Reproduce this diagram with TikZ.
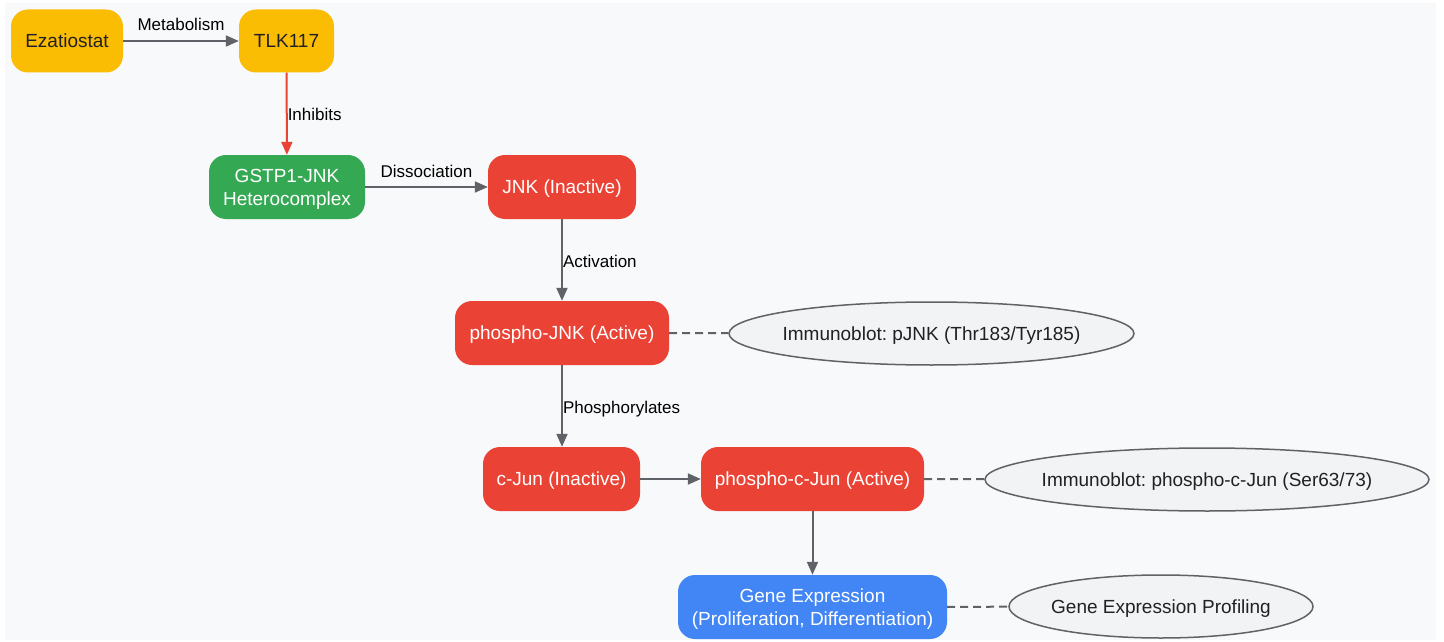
\documentclass[tikz,border=0pt]{standalone}
\usepackage{fontspec}
\setmainfont{Liberation Sans}
\frenchspacing
\usetikzlibrary{arrows.meta,shapes.geometric}
\definecolor{bgc}{HTML}{F8F9FA}
\definecolor{yel}{HTML}{FBBC04}
\definecolor{grn}{HTML}{34A853}
\definecolor{redc}{HTML}{EA4335}
\definecolor{blu}{HTML}{4285F4}
\definecolor{ell}{HTML}{F1F3F4}
\definecolor{edge}{HTML}{5F6368}
\definecolor{txt}{HTML}{202124}
\tikzset{
  box/.style={rectangle, rounded corners=17pt, inner sep=0pt, align=center,
    text depth=0pt, font=\fontsize{19}{23}\selectfont},
  ybox/.style={box, fill=yel, text=txt},
  gbox/.style={box, fill=grn, text=white},
  rbox/.style={box, fill=redc, text=white},
  bbox/.style={box, fill=blu, text=white},
  assay/.style={ellipse, draw=edge, line width=1.5pt, fill=ell, text=txt, inner sep=0pt,
    text depth=0pt, font=\fontsize{19}{23}\selectfont},
  arr/.style={draw=edge, line width=2pt, -{Triangle[length=13pt,width=11pt]}},
  rarr/.style={draw=redc, line width=2pt, -{Triangle[length=13pt,width=11pt]}},
  dsh/.style={draw=edge, line width=2pt, dash pattern=on 8pt off 5pt},
  lbl/.style={font=\fontsize{17}{20}\selectfont, text=black, inner sep=0pt}
}
\begin{document}
\begin{tikzpicture}[x=1pt,y=-1pt]
\useasboundingbox (0,0) rectangle (1444,642);
\fill[white] (0,0) rectangle (1444,642);
\fill[bgc] (5,3) rectangle (1436,640);

\node[ybox, minimum width=112pt, minimum height=63pt] (ez) at (67,41) {Ezatiostat};
\node[ybox, minimum width=95pt, minimum height=63pt] (tlk) at (286.5,41) {TLK117};
\node[gbox, minimum width=156pt, minimum height=64pt] (gst) at (287,187) {GSTP1-JNK\\Heterocomplex};
\node[rbox, minimum width=148pt, minimum height=64pt] (jnk) at (562,187) {JNK (Inactive)};
\node[rbox, minimum width=214pt, minimum height=64pt] (pjnk) at (562,333) {phospho-JNK (Active)};
\node[assay, minimum width=405pt, minimum height=63pt] (e1) at (931.5,333.5) {\makebox[0pt]{Immunoblot: pJNK (Thr183/Tyr185)}};
\node[rbox, minimum width=157pt, minimum height=64pt] (cjun) at (561.5,479) {c-Jun (Inactive)};
\node[rbox, minimum width=223pt, minimum height=64pt] (pcjun) at (812.5,479) {phospho-c-Jun (Active)};
\node[assay, minimum width=444pt, minimum height=63pt] (e2) at (1207,479.5) {\makebox[0pt]{Immunoblot: phospho-c-Jun (Ser63/73)}};
\node[bbox, minimum width=269pt, minimum height=64pt] (gene) at (812.5,607) {Gene Expression\\(Proliferation, Differentiation)};
\node[assay, minimum width=304pt, minimum height=63pt] (e3) at (1161,606.5) {\makebox[0pt]{Gene Expression Profiling}};

\draw[arr] (ez) -- (tlk) node[lbl, midway, above=9pt] {Metabolism};
\draw[rarr] (tlk) -- (gst) node[lbl, midway, anchor=west, yshift=-1pt] {Inhibits};
\draw[arr] (gst) -- (jnk) node[lbl, midway, above=8pt] {Dissociation};
\draw[arr] (jnk) -- (pjnk) node[lbl, pos=0.5, anchor=west, yshift=-1pt] {Activation};
\draw[arr] (pjnk) -- (cjun.north -| pjnk.south) node[lbl, pos=0.5, anchor=west, yshift=-3pt] {Phosphorylates};
\draw[arr] (cjun) -- (pcjun);
\draw[arr] (pcjun) -- (gene);
\draw[dsh] (pjnk) -- (e1);
\draw[dsh] (pcjun) -- (e2);
\draw[dsh] (gene) -- (e3);
\end{tikzpicture}
\end{document}
